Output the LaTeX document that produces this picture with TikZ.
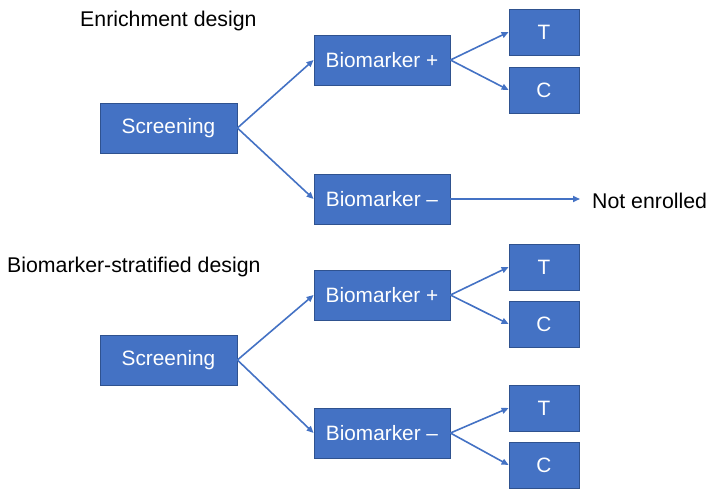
\documentclass[tikz,border=0pt]{standalone}
\usepackage{fontspec}
\setmainfont{Liberation Sans}
\usetikzlibrary{arrows.meta}
\definecolor{boxblue}{HTML}{4472C4}
\definecolor{edgeblue}{HTML}{2F528F}
\begin{document}
\begin{tikzpicture}[x=1pt,y=-1pt,
  bx/.style={draw=edgeblue,line width=0.8pt,fill=boxblue,text=white,minimum height=50pt,inner sep=0pt,font=\fontsize{20.8}{24}\selectfont},
  scr/.style={bx,minimum width=137pt},
  bio/.style={bx,minimum width=136pt},
  tc/.style={bx,minimum width=70pt,minimum height=46pt},
  lab/.style={font=\fontsize{21.3}{24}\selectfont,inner sep=0pt},
  conn/.style={draw=boxblue,line width=1.6pt,-{Triangle[length=7pt,width=6pt]}}]
\useasboundingbox (0,0) rectangle (707,489);
% top
\node[lab,anchor=west] (t1) at (80,21) {Enrichment design};
\node[scr] (s1) at (168.5,128) {Screening};
\node[bio] (bp1) at (382,60) {Biomarker +};
\node[bio] (bm1) at (382,199) {Biomarker --};
\node[tc] (T1) at (544,32) {T};
\node[tc] (C1) at (544,90) {C};
\node[lab,anchor=west] (ne) at (592,201) {Not enrolled};
\coordinate (nee) at (580,199);
\draw[conn] (s1.east) -- (bp1.west);
\draw[conn] (s1.east) -- (bm1.west);
\draw[conn] (bp1.east) -- (T1.west);
\draw[conn] (bp1.east) -- (C1.west);
\draw[conn] (bm1.east) -- (nee);
% bottom
\node[lab,anchor=west] (t2) at (7,267) {Biomarker-stratified design};
\node[scr] (s2) at (168.5,360) {Screening};
\node[bio] (bp2) at (382,295) {Biomarker +};
\node[bio] (bm2) at (382,433) {Biomarker --};
\node[tc] (T2) at (544,267) {T};
\node[tc] (C2) at (544,324) {C};
\node[tc] (T3) at (544,408) {T};
\node[tc] (C3) at (544,465) {C};
\draw[conn] (s2.east) -- (bp2.west);
\draw[conn] (s2.east) -- (bm2.west);
\draw[conn] (bp2.east) -- (T2.west);
\draw[conn] (bp2.east) -- (C2.west);
\draw[conn] (bm2.east) -- (T3.west);
\draw[conn] (bm2.east) -- (C3.west);
\end{tikzpicture}
\end{document}
